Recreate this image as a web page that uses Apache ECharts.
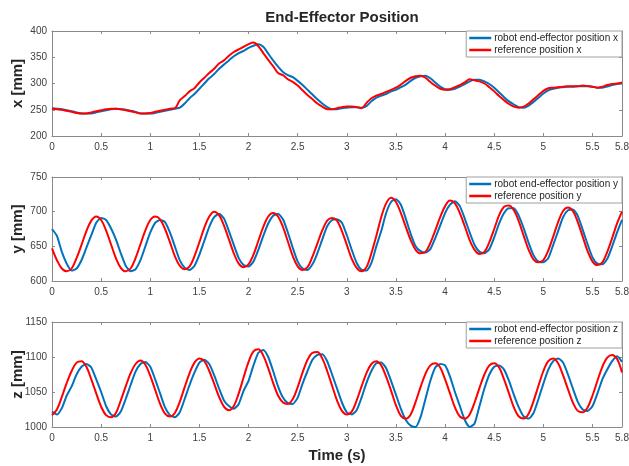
<!DOCTYPE html>
<html>
<head>
<meta charset="utf-8">
<script src="https://cdn.jsdelivr.net/npm/echarts@6/dist/echarts.min.js"></script>
<style>
  html, body { margin: 0; padding: 0; background: #fff; }
  #main { width: 629px; height: 466px; }
</style>
</head>
<body>
<div id="main"></div>
<script>
// sample step of the recorded signals (s)
var dt = 0.05;

// x position [mm]
var robotX = [253,252,251,249,247,245,243,243,243,245,247,249,251,252,251,250,248,246,243,243,
  243,244,246,248,250,252,254,262,272,280,290,300,310,318,328,336,344,352,358,362,
  368,372,375,370,357,344,332,322,316,312,305,297,288,279,270,262,255,251,251,253,
  254,255,255,254,257,266,273,277,280,285,288,293,298,305,311,314,315,310,302,294,
  289,288,290,294,299,304,307,307,304,299,292,283,274,266,260,255,254,258,265,273,
  281,287,290,292,293,294,294,295,295,295,294,292,292,294,297,299,300];
var refX = [252,251,250,248,246,244,243,243,245,247,249,251,252,252,251,249,247,245,243,243,
  244,246,248,250,252,253,268,276,285,291,302,311,320,328,338,344,353,360,365,370,
  375,378,371,358,345,333,320,316,308,303,296,287,278,270,262,256,251,251,253,255,
  256,256,255,253,263,272,277,280,284,288,292,298,305,311,314,315,311,303,296,290,
  288,289,293,297,302,308,306,304,300,293,285,276,268,261,256,254,256,262,270,278,
  286,291,292,293,294,295,295,295,296,295,294,292,294,297,299,300,302];

// y position [mm]
var robotY = [675,665,642,625,615,618,630,648,666,684,691,688,676,660,640,622,614,617,630,650,
  670,684,688,685,670,650,630,619,616,622,638,658,678,692,697,690,672,652,633,623,
  621,628,645,665,683,694,697,689,670,648,628,618,616,624,640,660,679,688,689,684,
  666,645,626,616,615,626,650,672,698,714,718,710,690,668,650,643,641,646,662,680,
  698,710,715,708,690,670,652,642,640,646,663,683,698,705,705,694,676,655,637,628,
  627,633,652,672,692,702,703,694,674,653,634,625,624,632,650,670,688];
var refY = [647,630,618,614,618,633,652,672,687,693,688,673,653,633,619,614,618,633,653,673,
  688,693,689,675,656,636,622,617,621,636,656,677,693,700,695,680,660,640,625,620,
  624,638,658,678,693,698,693,678,657,636,621,616,620,635,654,673,687,691,687,672,
  652,632,619,614,620,640,665,692,712,720,714,698,678,659,645,640,642,655,673,692,
  708,716,712,698,679,659,645,639,642,656,675,695,707,709,702,686,665,645,631,627,
  630,644,664,685,701,706,701,685,664,643,628,623,627,642,662,683,700];

// z position [mm]
var robotZ = [1022,1018,1027,1045,1058,1075,1086,1090,1085,1068,1050,1030,1018,1015,1022,1040,1060,1079,1090,1093,
  1086,1068,1048,1028,1017,1014,1021,1040,1060,1078,1092,1096,1090,1074,1055,1038,1030,1026,1033,1052,
  1066,1088,1106,1110,1100,1080,1058,1042,1034,1033,1042,1062,1080,1096,1103,1104,1094,1075,1055,1035,
  1021,1018,1024,1042,1063,1080,1091,1092,1084,1066,1046,1026,1010,1002,1000,1014,1040,1066,1085,1090,
  1088,1072,1050,1030,1010,1000,1005,1030,1055,1075,1086,1088,1082,1066,1046,1028,1015,1012,1020,1040,
  1062,1082,1094,1098,1092,1075,1055,1036,1025,1023,1030,1048,1068,1082,1094,1101,1093];
var refZ = [1017,1025,1043,1063,1080,1092,1094,1086,1068,1048,1029,1017,1014,1020,1038,1058,1077,1090,1095,1089,
  1073,1053,1033,1019,1015,1020,1036,1057,1077,1092,1098,1094,1080,1062,1043,1029,1024,1030,1048,1071,
  1093,1108,1111,1102,1084,1063,1045,1035,1033,1040,1057,1078,1096,1106,1107,1098,1080,1059,1038,1023,
  1018,1022,1038,1058,1077,1090,1094,1088,1072,1052,1031,1016,1012,1018,1036,1057,1076,1088,1091,1085,
  1068,1048,1028,1015,1012,1018,1035,1056,1075,1088,1091,1085,1068,1048,1028,1015,1012,1019,1037,1059,
  1080,1094,1098,1091,1074,1054,1035,1023,1021,1028,1045,1066,1086,1099,1103,1097,1078];

var yRanges = [[200, 400], [600, 750], [1000, 1150]];
var yNames = ['x [mm]', 'y [mm]', 'z [mm]'];
var robotNames = ['robot end-effector position x', 'robot end-effector position y', 'robot end-effector position z'];
var refNames = ['reference position x', 'reference position y', 'reference position z'];

var BLUE = '#0072BD', RED = '#FF0000';
var FONT = 'Liberation Sans';
var AXIS = '#8a8a8a';
var gridTops = [31, 177, 322];
var gridH = [105, 104, 105];

function pairs(arr) {
  return arr.map(function (v, i) { return [+(i * dt).toFixed(2), v]; });
}

var grids = [], xAxes = [], yAxes = [], series = [], legends = [];
var robot = [robotX, robotY, robotZ];
var ref = [refX, refY, refZ];

for (var k = 0; k < 3; k++) {
  grids.push({ left: 52, width: 570, top: gridTops[k], height: gridH[k],
    containLabel: false, outerBoundsMode: 'none' });

  // bottom x axis
  xAxes.push({
    type: 'value', gridIndex: k, min: 0, max: 5.8, interval: 0.5, position: 'bottom',
    axisLine: { show: true, onZero: false, lineStyle: { color: AXIS, width: 1 } },
    axisTick: { inside: true, length: 3, lineStyle: { color: AXIS } },
    axisLabel: { color: '#404040', fontSize: 10, fontFamily: FONT, margin: 6, showMaxLabel: true,
      formatter: function (v) { return String(+v.toFixed(1)); } },
    splitLine: { show: false },
    name: k === 2 ? 'Time (s)' : '', nameLocation: 'middle', nameGap: 21, nameMoveOverlap: false,
    nameTextStyle: { fontSize: 15, fontWeight: 'bold', color: '#262626', fontFamily: FONT }
  });
  // top mirror
  xAxes.push({
    type: 'value', gridIndex: k, min: 0, max: 5.8, interval: 0.5, position: 'top',
    axisLine: { show: true, onZero: false, lineStyle: { color: AXIS, width: 1 } },
    axisTick: { inside: true, length: 3, lineStyle: { color: AXIS } },
    axisLabel: { show: false }, splitLine: { show: false }
  });

  yAxes.push({
    type: 'value', gridIndex: k, min: yRanges[k][0], max: yRanges[k][1], interval: 50, position: 'left',
    axisLine: { show: true, onZero: false, lineStyle: { color: AXIS, width: 1 } },
    axisTick: { show: true, inside: true, length: 3, lineStyle: { color: AXIS } },
    axisLabel: { color: '#404040', fontSize: 10, fontFamily: FONT, margin: 5,
      formatter: function (v) { return String(v); } },
    splitLine: { show: false },
    name: yNames[k], nameLocation: 'middle', nameGap: 27, nameRotate: 90, nameMoveOverlap: false,
    nameTextStyle: { fontSize: 15, fontWeight: 'bold', color: '#262626', fontFamily: FONT }
  });
  yAxes.push({
    type: 'value', gridIndex: k, min: yRanges[k][0], max: yRanges[k][1], interval: 50, position: 'right',
    axisLine: { show: true, onZero: false, lineStyle: { color: AXIS, width: 1 } },
    axisTick: { show: true, inside: true, length: 3, lineStyle: { color: AXIS } },
    axisLabel: { show: false }, splitLine: { show: false }
  });

  series.push({
    name: robotNames[k], type: 'line', xAxisIndex: 2 * k, yAxisIndex: 2 * k,
    data: pairs(robot[k]), showSymbol: false, symbol: 'none', smooth: 0.2,
    lineStyle: { color: BLUE, width: 2 }, itemStyle: { color: BLUE }, z: 2
  });
  series.push({
    name: refNames[k], type: 'line', xAxisIndex: 2 * k, yAxisIndex: 2 * k,
    data: pairs(ref[k]), showSymbol: false, symbol: 'none', smooth: 0.35,
    lineStyle: { color: RED, width: 2 }, itemStyle: { color: RED }, z: 3
  });

  legends.push({
    data: [robotNames[k], refNames[k]], orient: 'vertical',
    right: 7, top: gridTops[k], itemWidth: 22, itemHeight: 2.5, icon: 'rect', itemGap: 2,
    padding: [2, 4, 2, 3], backgroundColor: '#fff', borderColor: '#a0a0a0', borderWidth: 1,
    selectedMode: false,
    textStyle: { fontSize: 10, color: '#262626', fontFamily: FONT, padding: [0, 0, 0, -2] }
  });
}

var myChart = echarts.init(document.getElementById('main'), null, { renderer: 'canvas' });
myChart.setOption({
  animation: false,
  backgroundColor: '#fff',
  title: {
    text: 'End-Effector Position', left: 337, textAlign: 'center', top: 5,
    textStyle: { fontSize: 15, fontWeight: 'bold', color: '#262626', fontFamily: FONT }
  },
  grid: grids,
  xAxis: xAxes,
  yAxis: yAxes,
  legend: legends,
  series: series
});
</script>
</body>
</html>
